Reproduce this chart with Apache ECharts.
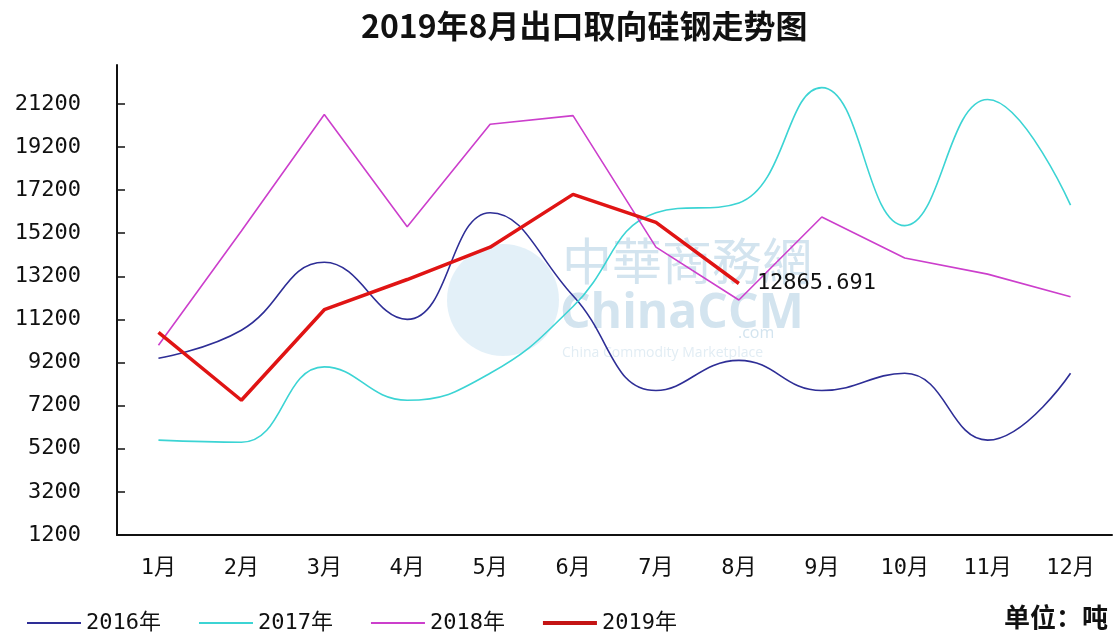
<!DOCTYPE html>
<html>
<head>
    <meta charset="utf-8">
    <title>2019年8月出口取向硅钢走势图</title>
    <script src="https://cdn.jsdelivr.net/npm/echarts@6.0.0/dist/echarts.min.js"></script>
    <style>
        html, body { margin: 0; padding: 0; background: #fff; }
    </style>
</head>
<body>
    <div id="main" style="width: 1118px; height: 637px;"></div>

    <script>
        const months = ['1月', '2月', '3月', '4月', '5月', '6月', '7月', '8月', '9月', '10月', '11月', '12月'];
        const data2016 = [9400, 10700, 13850, 11200, 16150, 12300, 7900, 9300, 7900, 8700, 5600, 8700];
        const data2017 = [5600, 5500, 9000, 7450, 8700, 11800, 16150, 16600, 21950, 15550, 21400, 16500];
        const data2018 = [10000, 15300, 20700, 15500, 20250, 20650, 14550, 12100, 15950, 14050, 13300, 12250];
        const data2019 = [10600, 7450, 11650, 13050, 14550, 17000, 15700, 12865.691];
        const yTicks = [1200, 3200, 5200, 7200, 9200, 11200, 13200, 15200, 17200, 19200, 21200];

        const monoFont = '"DejaVu Sans Mono", "Noto Sans CJK SC", monospace';
        // legend icons: plain line strokes, thin for 2016-2018, thick for 2019
        const thinIcon = 'path://M0,0 L54,0 L54,2 L0,2 Z';
        const thickIcon = 'path://M0,0 L54,0 L54,4 L0,4 Z';

        const chart = echarts.init(document.getElementById('main'));

        const option = {
            backgroundColor: '#fff',
            animation: false,
            title: {
                text: '2019年8月出口取向硅钢走势图',
                left: 356,
                top: 5,
                textStyle: {
                    fontSize: 32,
                    fontWeight: 'bold',
                    color: '#111',
                    fontFamily: '"Noto Sans CJK SC", sans-serif'
                }
            },
            legend: {
                left: 22,
                top: 607,
                itemWidth: 54,
                itemHeight: 14,
                itemGap: 38,
                textStyle: {
                    fontSize: 22,
                    color: '#111',
                    fontFamily: monoFont
                },
                data: [
                    { name: '2016年', icon: thinIcon },
                    { name: '2017年', icon: thinIcon },
                    { name: '2018年', icon: thinIcon },
                    { name: '2019年', icon: thickIcon, itemStyle: { color: '#c41414' } }
                ]
            },
            graphic: [
                {
                    type: 'circle', z: -10,
                    shape: { cx: 503, cy: 300, r: 56 },
                    style: { fill: '#dcecf6', opacity: 0.8 }
                },
                {
                    type: 'text', z: -10, left: 562, top: 236,
                    style: { text: '中華商務網', fill: '#d3e4ef', font: '50px "Noto Sans CJK TC"' }
                },
                {
                    type: 'text', z: -10, left: 560, top: 290,
                    style: { text: 'ChinaCCM', fill: '#d3e4ef', font: 'bold 48px "Open Sans"' }
                },
                {
                    type: 'text', z: -10, left: 738, top: 325,
                    style: { text: '.com', fill: '#d3e4ef', font: '16px "Open Sans"' }
                },
                {
                    type: 'text', z: -10, left: 562, top: 346,
                    style: { text: 'China Commodity Marketplace', fill: '#e2edf4', font: '14px "Open Sans"' }
                },
                {
                    type: 'text', right: 10, top: 604,
                    style: { text: '单位：吨', fill: '#111', font: 'bold 26px "Noto Sans CJK SC"' }
                }
            ],
            grid: {
                left: 117,
                right: 6,
                top: 65,
                bottom: 102
            },
            xAxis: {
                type: 'category',
                data: months,
                boundaryGap: true,
                axisLine: { lineStyle: { color: '#111', width: 2 } },
                axisTick: { inside: true, length: 6, lineStyle: { color: '#111', width: 2 } },
                axisLabel: {
                    margin: 22,
                    fontSize: 22,
                    color: '#111',
                    fontFamily: monoFont
                },
                splitLine: { show: false }
            },
            yAxis: {
                type: 'value',
                min: 1200,
                max: 23000,
                interval: 2000,
                axisLine: { show: true, lineStyle: { color: '#111', width: 2 } },
                axisTick: {
                    show: true, inside: true, length: 8,
                    customValues: yTicks,
                    lineStyle: { color: '#111', width: 1.5 }
                },
                axisLabel: {
                    margin: 36,
                    fontSize: 22,
                    color: '#111',
                    fontFamily: monoFont,
                    customValues: yTicks,
                    formatter: v => String(v)
                },
                splitLine: { show: false }
            },
            series: [
                {
                    name: '2016年',
                    type: 'line',
                    data: data2016,
                    smooth: 0.45,
                    symbol: 'none',
                    color: '#2e2e96',
                    lineStyle: { width: 1.6, color: '#2e2e96' }
                },
                {
                    name: '2017年',
                    type: 'line',
                    data: data2017,
                    smooth: 0.45,
                    symbol: 'none',
                    color: '#3cd4d4',
                    lineStyle: { width: 1.6, color: '#3cd4d4' }
                },
                {
                    name: '2018年',
                    type: 'line',
                    data: data2018,
                    symbol: 'none',
                    color: '#cc3fcc',
                    lineStyle: { width: 1.6, color: '#cc3fcc' }
                },
                {
                    name: '2019年',
                    type: 'line',
                    data: data2019,
                    symbol: 'none',
                    color: '#e01414',
                    lineStyle: { width: 3.5, color: '#e01414' },
                    endLabel: {
                        show: true,
                        distance: 18,
                        color: '#111',
                        fontSize: 22,
                        fontFamily: monoFont,
                        formatter: p => String(p.value)
                    }
                }
            ]
        };

        chart.setOption(option);
    </script>
</body>
</html>
